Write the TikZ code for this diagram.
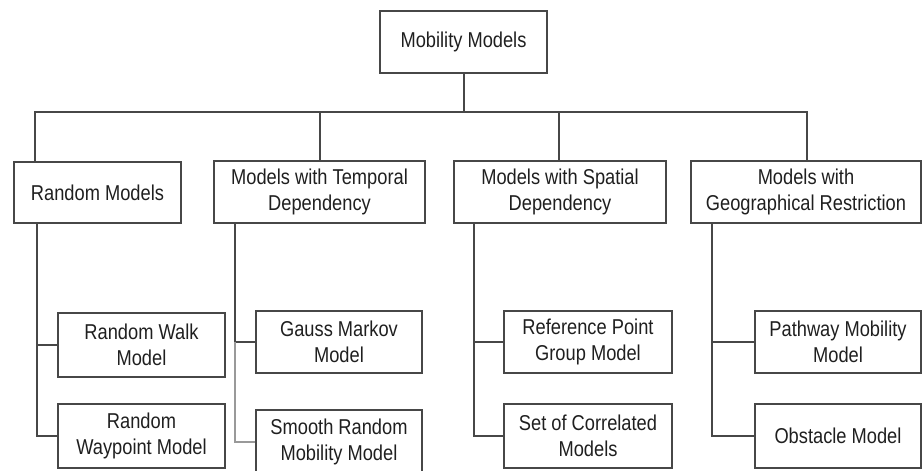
\documentclass[tikz,border=0pt]{standalone}
\usepackage{fontspec}
\setmainfont[FakeStretch=0.85]{Liberation Sans}
\begin{document}
\begin{tikzpicture}[x=1pt,y=-1pt,
  every node/.style={font=\fontsize{21.5}{26}\selectfont, text=black!88},
  box/.style={draw=black!72, line width=1.1pt, rectangle, inner sep=0pt,
              align=center, minimum width=#1},
  box/.default=167pt,
  link/.style={draw=black!72, line width=1.1pt},
  faint/.style={draw=black!40, line width=1.1pt}]
\useasboundingbox (0,0) rectangle (922,471);

% top level
\node[box, minimum height=62pt] (root) at (463.5,42) {Mobility Models};

% second level
\node[box, minimum height=61pt] (rand) at (97.5,192.5) {Random Models};
\node[box=211pt, minimum height=62pt] (temp) at (319.5,192) {Models with Temporal\\Dependency};
\node[box=212pt, minimum height=62pt] (spat) at (560,192) {Models with Spatial\\Dependency};
\node[box=230pt, minimum height=62pt] (geo) at (806,192) {Models with\\Geographical Restriction};

% leaves
\node[box, minimum height=64pt] (rw)  at (141.5,345) {Random Walk\\Model};
\node[box, minimum height=64pt] (rwp) at (141.5,436) {Random\\Waypoint Model};
\node[box=166pt, minimum height=62pt] (gm)  at (339,342) {Gauss Markov\\Model};
\node[box=166pt, minimum height=64pt] (srm) at (339,442) {Smooth Random\\Mobility Model};
\node[box=168pt, minimum height=62pt] (rpg) at (588,342) {Reference Point\\Group Model};
\node[box=168pt, minimum height=64pt] (scm) at (588,436) {Set of Correlated\\Models};
\node[box=166pt, minimum height=62pt] (pm)  at (838,342) {Pathway Mobility\\Model};
\node[box=166pt, minimum height=64pt] (obs) at (838,436) {Obstacle Model};

% bus between the top box and the second level
\coordinate (bus)  at (464,112);
\coordinate (busL) at (35,112);
\coordinate (busR) at (807,112);
\coordinate (d2) at (320,112);
\coordinate (d3) at (559,112);
\draw[link] (root.south -| bus) -- (bus);
\draw[link] (busL |- rand.north) -- (busL) -- (busR) -- (busR |- geo.north);
\draw[link] (temp.north -| d2) -- (d2);
\draw[link] (spat.north -| d3) -- (d3);

% trunks down the left side of each group
\coordinate (t1) at (37,0);
\coordinate (t2) at (235,0);
\coordinate (t3) at (474,0);
\coordinate (t4) at (712,0);

\draw[link] (rand.south -| t1) |- (rwp.west);
\draw[link] (rw.west) -- (rw.west -| t1);

\draw[link] (temp.south -| t2) |- (gm.west);
\draw[faint] (gm.west -| t2) |- (srm.west);

\draw[link] (spat.south -| t3) |- (scm.west);
\draw[link] (rpg.west) -- (rpg.west -| t3);

\draw[link] (geo.south -| t4) |- (obs.west);
\draw[link] (pm.west) -- (pm.west -| t4);
\end{tikzpicture}
\end{document}
